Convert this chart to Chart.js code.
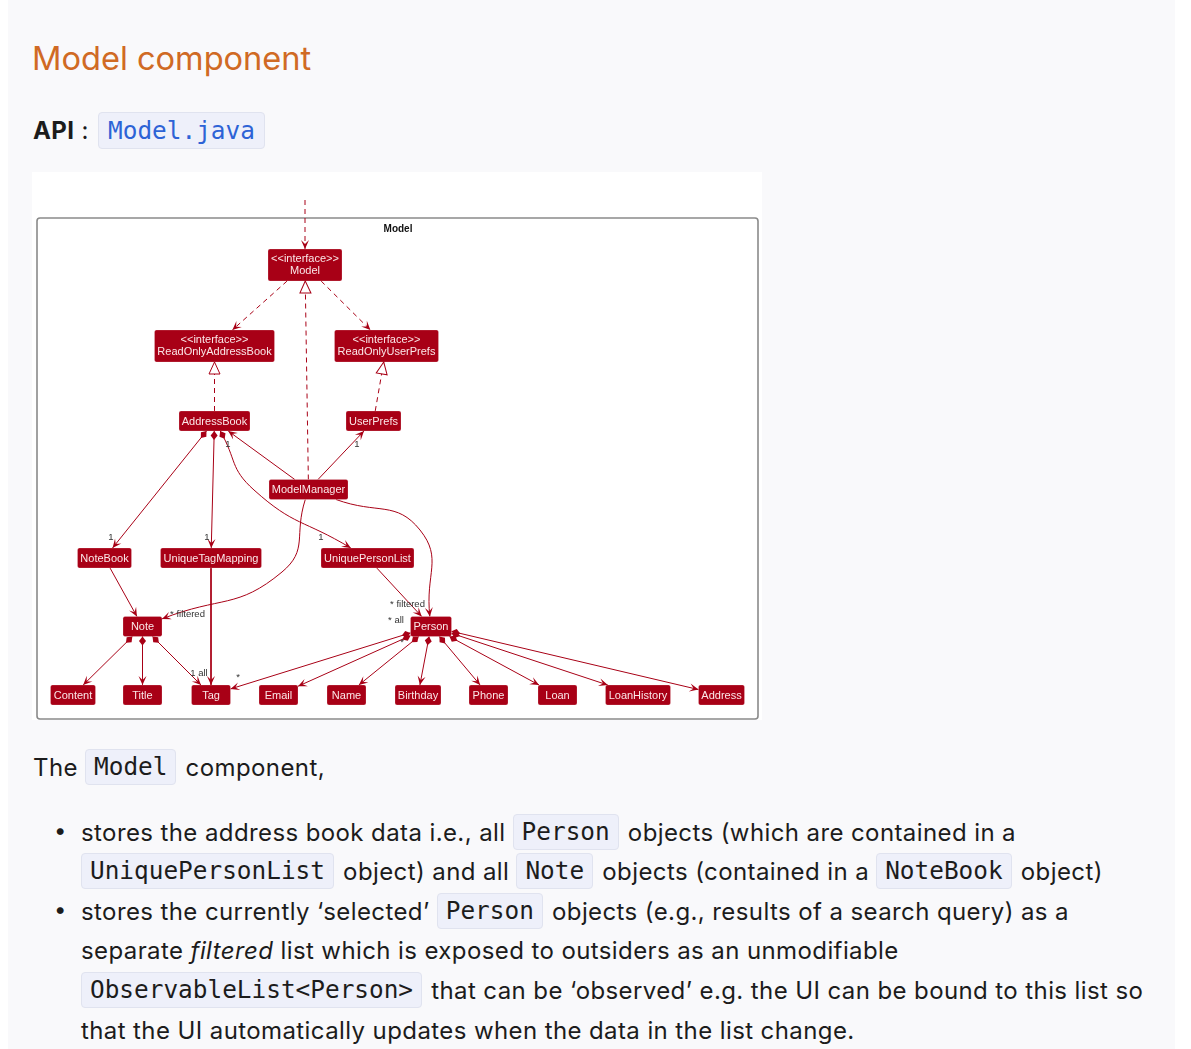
<!DOCTYPE html>
<html>
<head>
<meta charset="utf-8">
<script src="https://cdn.jsdelivr.net/npm/chart.js@4.4.1/dist/chart.umd.min.js"></script>
<style>
html, body { margin: 0; background: #fff; }
.page { position: absolute; left: 8px; top: 0; width: 1167px; height: 1049px; background: #f9f9fb;
  font-family: Inter, "Noto Sans", sans-serif; color: #1c1c1c; }
.row { position: absolute; left: 25px; display: flex; align-items: center; white-space: nowrap; font-size: 24px; letter-spacing: 0.4px; }
.h2 { position: absolute; left: 24px; top: 36px; font-size: 32.6px; color: #d06a24; line-height: 44px; }
.code { display: inline-block; font-family: "DejaVu Sans Mono", "Liberation Mono", monospace; font-size: 24.4px; letter-spacing: 0;
  background: #eef0fa; border: 1px solid #e0e3ef; border-radius: 4px; padding: 0 8px; height: 34px; line-height: 34px;
  margin: 0 2px 0 0; color: #1c1c1c; }
.code.link { color: #2d63d6; height: 35px; line-height: 35px; padding: 0 9px; }
.bullet { position: absolute; left: 46px; font-size: 22px; }
#diagram { position: absolute; left: 24px; top: 172px; width: 730px; height: 548px; background: #fff; }
</style>
</head>
<body>
<div class="page">
  <div class="h2">Model component</div>
  <div class="row" style="top:112px;height:36px;"><b>API</b>&nbsp;:&nbsp;<span class="code link" style="margin-left:2px">Model.java</span></div>
  <div id="diagram"><canvas id="chart"></canvas></div>
  <div class="row" style="top:750px;height:34px;">The&nbsp;<span class="code" style="margin:0 2px 0 0">Model</span>&nbsp;component,</div>

  <div class="bullet" style="top:817px">•</div>
  <div class="row" style="left:73px;top:815px;height:34px;">stores the address book data i.e., all&nbsp;<span class="code">Person</span>&nbsp;objects (which are contained in a</div>
  <div class="row" style="left:73px;top:854px;height:34px;"><span class="code">UniquePersonList</span>&nbsp;object) and all&nbsp;<span class="code">Note</span>&nbsp;objects (contained in a&nbsp;<span class="code">NoteBook</span>&nbsp;object)</div>
  <div class="bullet" style="top:896px">•</div>
  <div class="row" style="left:73px;top:894px;height:34px;">stores the currently ‘selected’&nbsp;<span class="code">Person</span>&nbsp;objects (e.g., results of a search query) as a</div>
  <div class="row" style="left:73px;top:933px;height:34px;">separate&nbsp;<em>filtered</em>&nbsp;list which is exposed to outsiders as an unmodifiable</div>
  <div class="row" style="left:73px;top:973px;height:34px;"><span class="code">ObservableList&lt;Person&gt;</span>&nbsp;that can be ‘observed’ e.g. the UI can be bound to this list so</div>
  <div class="row" style="left:73px;top:1013px;height:34px;">that the UI automatically updates when the data in the list change.</div>
</div>

<script>
// classes of the diagram and where they sit (diagram units, y grows downward)
const nodeNames = ['Model', 'ReadOnlyAddressBook', 'ReadOnlyUserPrefs', 'AddressBook', 'UserPrefs',
  'ModelManager', 'NoteBook', 'UniqueTagMapping', 'UniquePersonList', 'Note', 'Person',
  'Content', 'Title', 'Tag', 'Email', 'Name', 'Birthday', 'Phone', 'Loan', 'LoanHistory', 'Address'];
const nodeX = [273, 182.5, 354.5, 182.5, 341.5, 276.5, 72.5, 179, 335.5, 110.5, 399,
  41, 110.5, 179, 246.5, 314.5, 386, 456.5, 525.5, 606, 689.5];
const nodeY = [93, 174, 174, 249, 249, 317.5, 386, 386, 386, 454.5, 454.5,
  523, 523, 523, 523, 523, 523, 523, 523, 523, 523];
const interfaceNames = ['Model', 'ReadOnlyAddressBook', 'ReadOnlyUserPrefs'];
const entryPoint = [273, 28];

// relations: from, to, kind (dep = dashed arrow, impl = dashed triangle, assoc = arrow, comp = diamond + arrow)
const relations = [
  ['entry', 'Model', 'dep'],
  ['Model', 'ReadOnlyAddressBook', 'dep'],
  ['Model', 'ReadOnlyUserPrefs', 'dep'],
  ['AddressBook', 'ReadOnlyAddressBook', 'impl'],
  ['UserPrefs', 'ReadOnlyUserPrefs', 'impl'],
  ['ModelManager', 'Model', 'impl'],
  ['ModelManager', 'AddressBook', 'assoc'],
  ['ModelManager', 'UserPrefs', 'assoc'],
  ['AddressBook', 'NoteBook', 'comp'],
  ['AddressBook', 'UniqueTagMapping', 'comp'],
  ['AddressBook', 'UniquePersonList', 'comp'],
  ['ModelManager', 'Note', 'assoc'],
  ['ModelManager', 'Person', 'assoc'],
  ['UniquePersonList', 'Person', 'assoc'],
  ['NoteBook', 'Note', 'assoc'],
  ['UniqueTagMapping', 'Tag', 'assoc'],
  ['Note', 'Content', 'comp'],
  ['Note', 'Title', 'comp'],
  ['Note', 'Tag', 'comp'],
  ['Person', 'Tag', 'comp'],
  ['Person', 'Email', 'comp'],
  ['Person', 'Name', 'comp'],
  ['Person', 'Birthday', 'comp'],
  ['Person', 'Phone', 'comp'],
  ['Person', 'Loan', 'comp'],
  ['Person', 'LoanHistory', 'comp'],
  ['Person', 'Address', 'comp']
];
// curved relations pass through one extra point
const bends = {
  'AddressBook>UniquePersonList': [222, 318],
  'ModelManager>Note': [250, 400],
  'ModelManager>Person': [388, 358]
};
// multiplicity labels
const labelTexts = ['1', '1', '1', '1', '1', '* filtered', '* filtered', '* all', '1 all', '*', '*'];
const labelX = [196, 325, 79, 175, 289, 155.5, 375.5, 364, 167, 206, 370];
const labelY = [272, 272, 365, 365, 365, 442, 432, 448, 501, 505, 470];

const RED = '#a80016';
const BOX_FONT = '11px "Liberation Sans", Arial, sans-serif';

const measure = document.createElement('canvas').getContext('2d');
measure.font = BOX_FONT;
const isIface = n => interfaceNames.includes(n);
const boxW = nodeNames.map(n => {
  const w = Math.max(measure.measureText(n).width, isIface(n) ? measure.measureText('<<interface>>').width : 0);
  return Math.max(39, Math.round(w + 6));
});
const boxH = nodeNames.map(n => isIface(n) ? 32 : 20);

function nodeGeom(name) {
  const i = nodeNames.indexOf(name);
  if (i < 0) return { x: entryPoint[0], y: entryPoint[1], hw: 0, hh: 0 };
  return { x: nodeX[i], y: nodeY[i], hw: boxW[i] / 2, hh: boxH[i] / 2 };
}
function clipTo(g, tx, ty) {
  if (!g.hw) return { x: g.x, y: g.y };
  const dx = tx - g.x, dy = ty - g.y;
  const t = Math.min(dx ? g.hw / Math.abs(dx) : Infinity, dy ? g.hh / Math.abs(dy) : Infinity);
  return { x: g.x + dx * t, y: g.y + dy * t };
}

const edgeSets = relations.map(([from, to, kind]) => {
  const a = nodeGeom(from), b = nodeGeom(to);
  const via = bends[from + '>' + to];
  const pts = via
    ? [clipTo(a, via[0], via[1]), { x: via[0], y: via[1] }, clipTo(b, via[0], via[1])]
    : [clipTo(a, b.x, b.y), clipTo(b, a.x, a.y)];
  return {
    type: 'scatter', data: pts, showLine: true, kind: kind,
    borderColor: RED, borderWidth: 1, pointRadius: 0,
    borderDash: (kind === 'dep' || kind === 'impl') ? [5, 4] : [],
    tension: via ? 0.5 : 0
  };
});

const nodeSet = {
  type: 'scatter', kind: 'nodes', pointRadius: 0, showLine: false,
  data: nodeNames.map((n, i) => ({ x: nodeX[i], y: nodeY[i] }))
};

function head(ctx, tip, from, type) {
  const ang = Math.atan2(tip.y - from.y, tip.x - from.x);
  ctx.save();
  ctx.translate(tip.x, tip.y);
  ctx.rotate(ang);
  ctx.beginPath();
  if (type === 'arrow') {
    ctx.moveTo(0, 0); ctx.lineTo(-9, -4); ctx.lineTo(-5, 0); ctx.lineTo(-9, 4); ctx.closePath();
    ctx.fillStyle = RED; ctx.fill();
  } else if (type === 'triangle') {
    ctx.moveTo(0, 0); ctx.lineTo(-12, -5.5); ctx.lineTo(-12, 5.5); ctx.closePath();
    ctx.fillStyle = '#fff'; ctx.fill(); ctx.strokeStyle = RED; ctx.lineWidth = 1; ctx.stroke();
  } else {
    ctx.moveTo(0, 0); ctx.lineTo(-4.5, -3.5); ctx.lineTo(-9, 0); ctx.lineTo(-4.5, 3.5); ctx.closePath();
    ctx.fillStyle = RED; ctx.fill();
  }
  ctx.restore();
}
function ctrl(p, key, fallback) {
  const x = p[key + 'x'], y = p[key + 'y'];
  if (x === undefined || (Math.abs(x - p.x) < 0.5 && Math.abs(y - p.y) < 0.5)) return fallback;
  return { x: x, y: y };
}

const umlPlugin = {
  id: 'uml',
  beforeDatasetsDraw(chart) {
    const { ctx, scales: { x, y } } = chart;
    ctx.save();
    const x0 = x.getPixelForValue(5), y0 = y.getPixelForValue(46);
    const x1 = x.getPixelForValue(726), y1 = y.getPixelForValue(547);
    ctx.beginPath();
    ctx.roundRect(x0, y0, x1 - x0, y1 - y0, 3);
    ctx.strokeStyle = '#8a8a8a'; ctx.lineWidth = 1.6; ctx.stroke();
    ctx.fillStyle = '#111';
    ctx.font = 'bold 10px "Liberation Sans", Arial, sans-serif';
    ctx.textAlign = 'center'; ctx.textBaseline = 'middle';
    ctx.fillText('Model', x.getPixelForValue(366), y.getPixelForValue(57));
    ctx.restore();
  },
  afterDatasetsDraw(chart) {
    const { ctx, scales: { x, y } } = chart;
    ctx.save();
    // boxes
    const nodeMeta = chart.getDatasetMeta(chart.data.datasets.length - 1);
    nodeMeta.data.forEach((p, i) => {
      const w = boxW[i], h = boxH[i];
      ctx.fillStyle = RED;
      ctx.beginPath();
      ctx.roundRect(p.x - w / 2, p.y - h / 2, w, h, 2);
      ctx.fill();
      ctx.strokeStyle = 'rgba(255,255,255,0.35)'; ctx.lineWidth = 0.6; ctx.stroke();
      ctx.fillStyle = '#fbe6e8';
      ctx.font = BOX_FONT;
      ctx.textAlign = 'center'; ctx.textBaseline = 'middle';
      if (isIface(nodeNames[i])) {
        ctx.fillText('<<interface>>', p.x, p.y - 6.5);
        ctx.fillText(nodeNames[i], p.x, p.y + 6);
      } else {
        ctx.fillText(nodeNames[i], p.x, p.y + 0.5);
      }
    });
    // heads and tails
    chart.data.datasets.forEach((ds, di) => {
      if (ds.kind === 'nodes') return;
      const pts = chart.getDatasetMeta(di).data;
      const first = pts[0], last = pts[pts.length - 1];
      const beforeLast = ctrl(last, 'cp1', pts[pts.length - 2]);
      const afterFirst = ctrl(first, 'cp2', pts[1]);
      head(ctx, last, beforeLast, ds.kind === 'impl' ? 'triangle' : 'arrow');
      if (ds.kind === 'comp') head(ctx, first, afterFirst, 'diamond');
    });
    // multiplicity labels
    ctx.fillStyle = '#333';
    ctx.font = '9.5px "Liberation Sans", Arial, sans-serif';
    ctx.textAlign = 'center'; ctx.textBaseline = 'middle';
    labelTexts.forEach((t, i) => ctx.fillText(t, x.getPixelForValue(labelX[i]), y.getPixelForValue(labelY[i])));
    ctx.restore();
  }
};

new Chart(document.getElementById('chart'), {
  type: 'scatter',
  data: { datasets: edgeSets.concat([nodeSet]) },
  options: {
    responsive: true,
    maintainAspectRatio: false,
    animation: false,
    events: [],
    layout: { padding: 0 },
    plugins: { legend: { display: false }, tooltip: { enabled: false } },
    scales: {
      x: { type: 'linear', min: 0, max: 730, display: false },
      y: { type: 'linear', min: 0, max: 548, reverse: true, display: false }
    }
  },
  plugins: [umlPlugin]
});
</script>
</body>
</html>
